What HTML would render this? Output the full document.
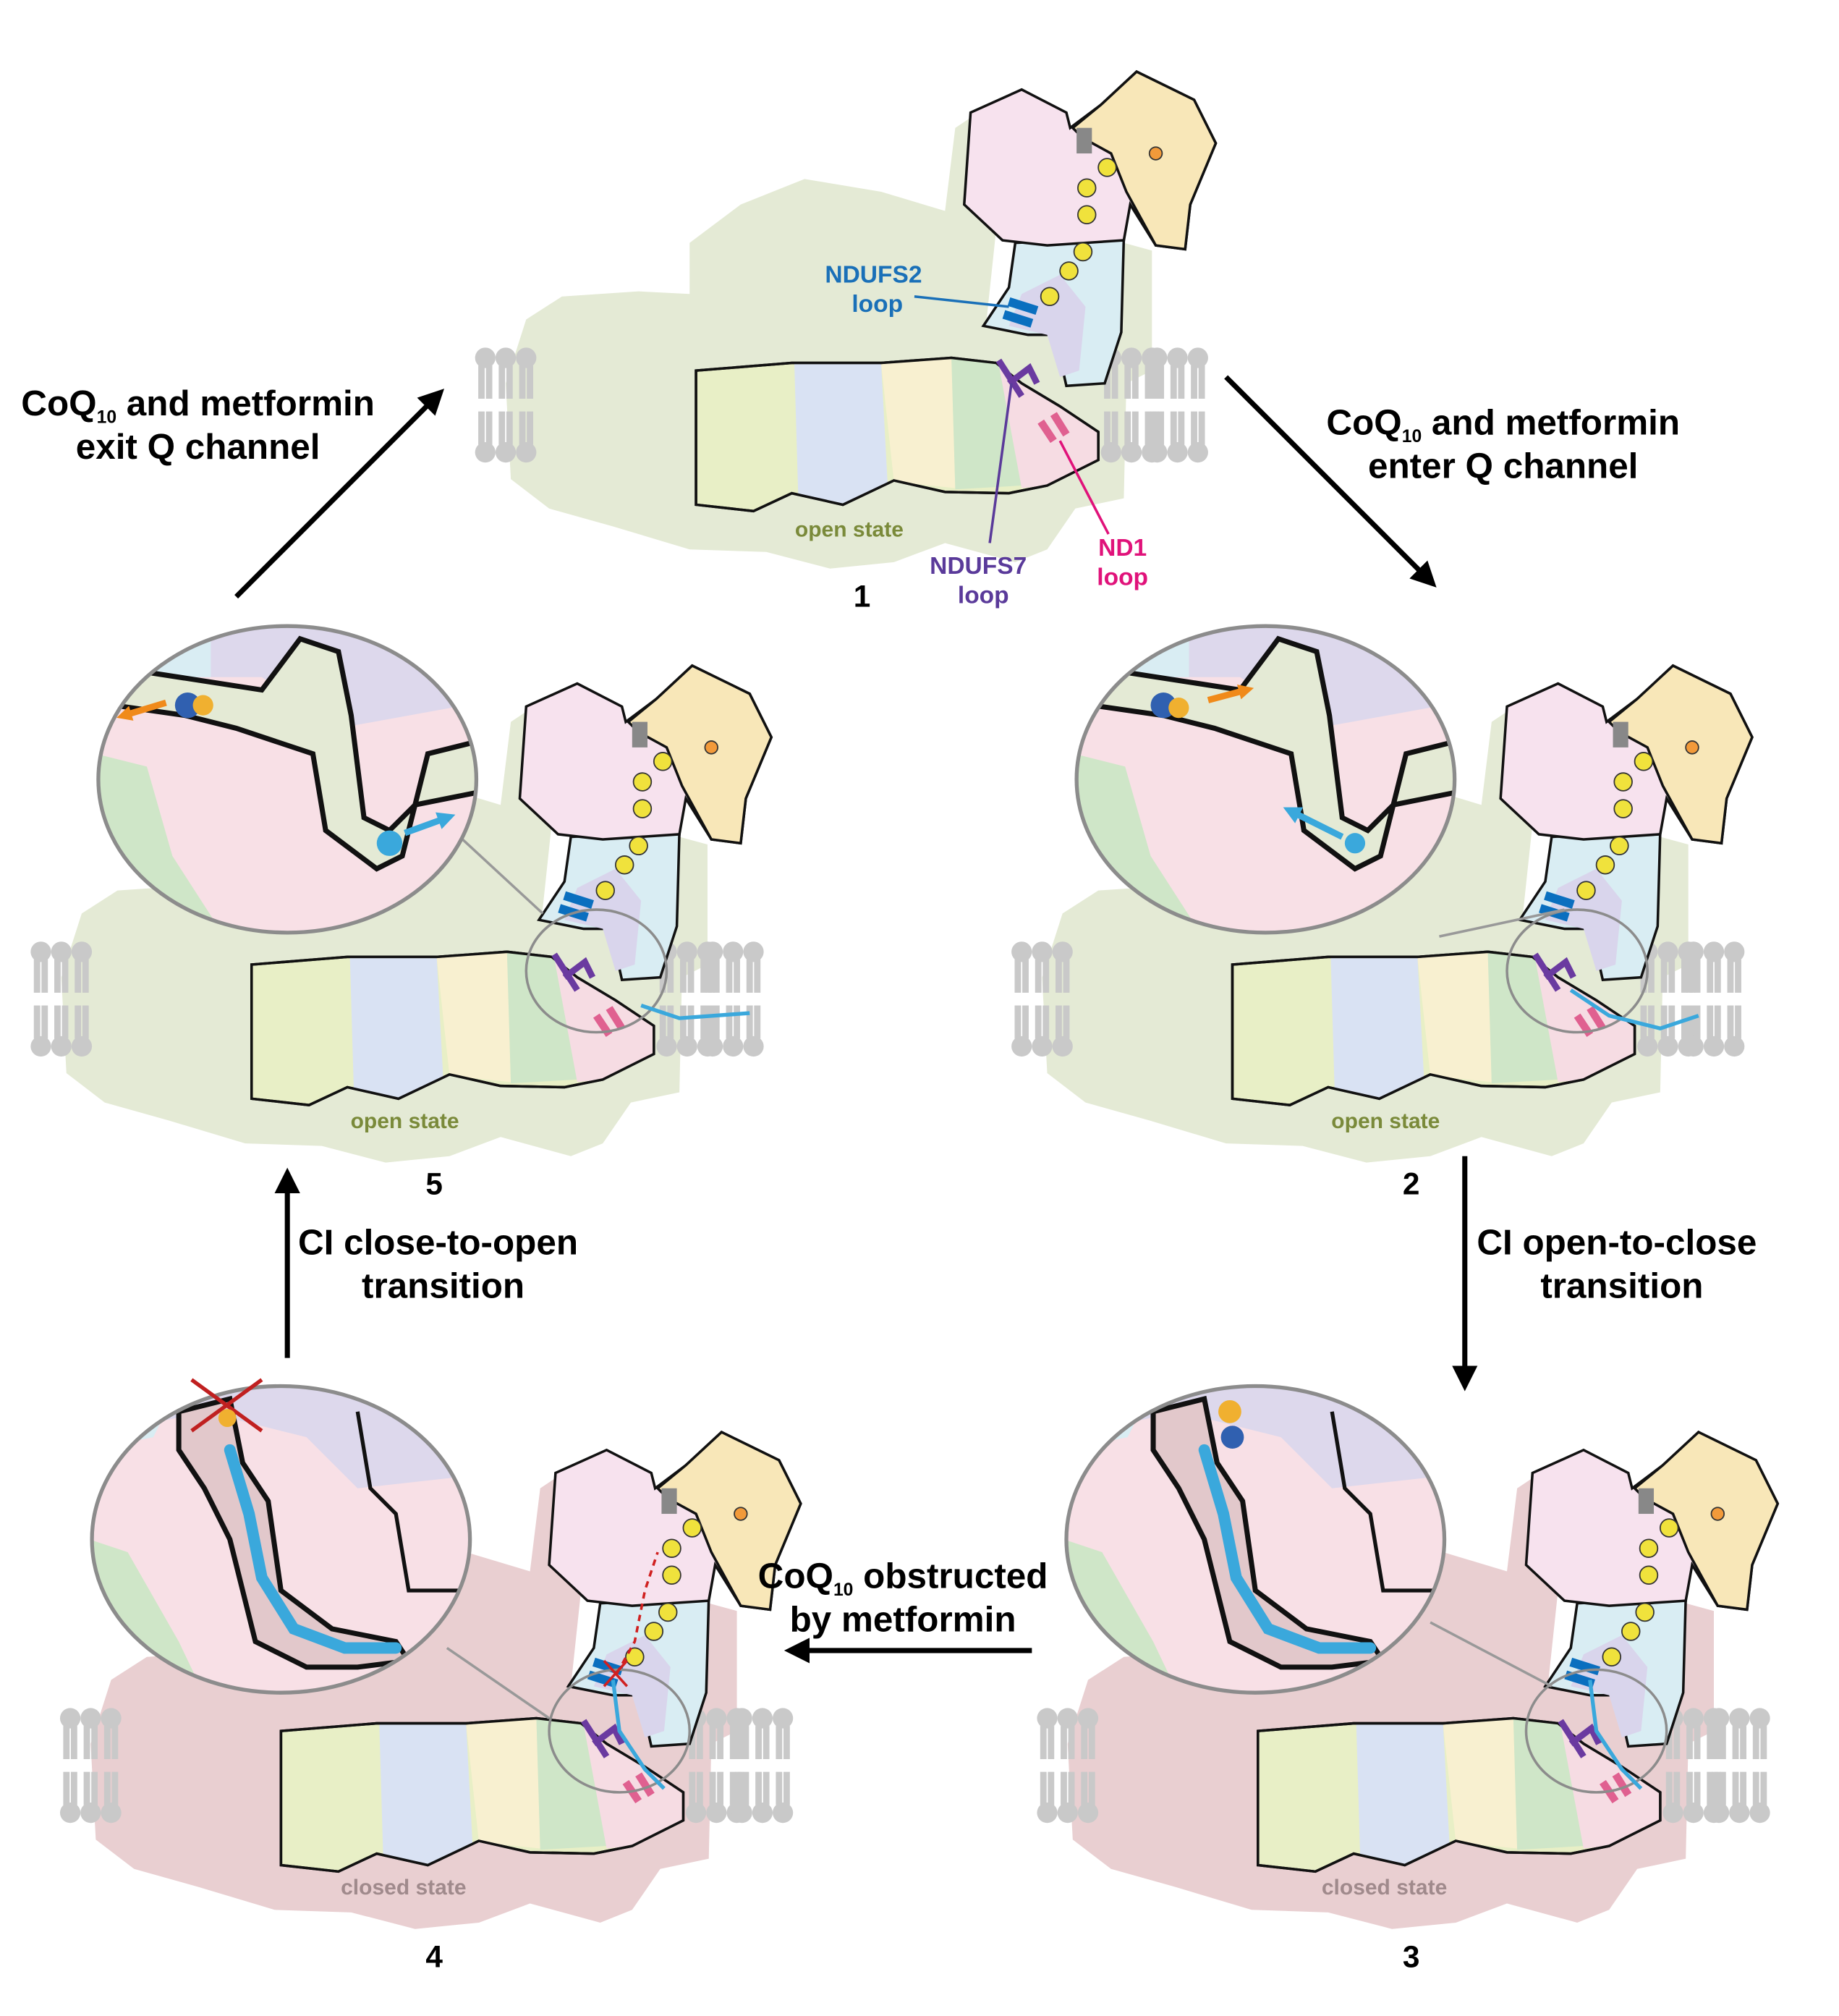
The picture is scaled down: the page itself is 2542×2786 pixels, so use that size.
<!DOCTYPE html>
<html><head><meta charset="utf-8"><style>
html,body{margin:0;padding:0;background:#fff}
svg{display:block}
text{font-family:"Liberation Sans",Arial,sans-serif;font-weight:bold}
</style></head><body>
<svg width="2542" height="2786" viewBox="0 0 1440 1578" xmlns="http://www.w3.org/2000/svg">
<defs>
  <g id="lipids">
    <g fill="#c9c9c9">
      <circle cx="8" cy="8" r="8"/><circle cx="24" cy="8" r="8"/><circle cx="40" cy="8" r="8"/>
      <circle cx="8" cy="82" r="8"/><circle cx="24" cy="82" r="8"/><circle cx="40" cy="82" r="8"/>
    </g>
    <g stroke="#c9c9c9" stroke-width="5" fill="none">
      <path d="M5,14 V40 M11,14 V40 M21,14 V40 M27,14 V40 M37,14 V40 M43,14 V40"/>
      <path d="M5,50 V76 M11,50 V76 M21,50 V76 M27,50 V76 M37,50 V76 M43,50 V76"/>
    </g>
  </g>
  <path id="bgshape" d="M400,375 L396,300 L412,250 L440,232 L500,228 L540,230 L540,190 L580,160 L630,140 L690,150 L740,165 L748,100 L760,92 L765,160 L780,180 L772,255 L850,255 L880,190 L902,196 L902,290 L882,300 L880,390 L842,398 L820,430 L795,440 L740,425 L700,440 L650,445 L600,432 L540,430 L480,412 L430,398 Z"/>
  <g id="complex">
    <use href="#lipids" x="372" y="272"/>
    <use href="#lipids" x="862" y="272"/>
    <use href="#lipids" x="898" y="272"/>
    <path d="M770,255 L790,225 L795,190 L880,186 L878,260 L865,300 L835,302 L826,262 L805,262 Z" fill="#d9edf3" stroke="#111" stroke-width="2"/>
    <path d="M800,230 L830,215 L850,240 L845,290 L830,295 L820,262 L790,255 Z" fill="#d9d5ec"/>
    <path d="M755,160 L760,88 L800,70 L835,88 L838,100 L862,82 L890,56 L935,78 L952,112 L932,160 L928,195 L905,192 L885,160 L880,188 L820,192 L785,188 Z" fill="#f7e2ee" stroke="#111" stroke-width="2"/>
    <path d="M840,100 L862,82 L890,56 L935,78 L952,112 L932,160 L928,195 L905,192 L882,150 L870,120 L848,108 Z" fill="#f8e7b8" stroke="#111" stroke-width="2"/>
    <g fill="#f0e23c" stroke="#333" stroke-width="1">
      <circle cx="867" cy="131" r="7"/><circle cx="851" cy="147" r="7"/><circle cx="851" cy="168" r="7"/>
      <circle cx="848" cy="197" r="7"/><circle cx="837" cy="212" r="7"/><circle cx="822" cy="232" r="7"/>
      <circle cx="905" cy="120" r="5" fill="#f29a3a"/>
    </g>
    <rect x="843" y="100" width="12" height="20" fill="#888"/>
    <path d="M545,290 L620,284 L690,284 L745,280 L780,284 L800,300 L830,318 L860,338 L860,360 L820,380 L790,386 L740,385 L700,376 L660,395 L620,386 L590,400 L545,395 Z" fill="#e8efc6" stroke="#111" stroke-width="2"/>
    <path d="M622,285 L690,285 L695,378 L660,395 L625,387 Z" fill="#d9e2f3"/>
    <path d="M690,285 L745,280 L748,382 L700,377 Z" fill="#f8f0d0"/>
    <path d="M745,280 L785,285 L800,380 L748,383 Z" fill="#cfe6c8"/>
    <path d="M782,285 L800,300 L830,318 L860,338 L860,360 L820,380 L800,382 Z" fill="#f6dce3"/>
    <path d="M545,290 L620,284 L690,284 L745,280 L780,284 L800,300 L830,318 L860,338 L860,360 L820,380 L790,386 L740,385 L700,376 L660,395 L620,386 L590,400 L545,395 Z" fill="none" stroke="#111" stroke-width="2"/>
    <g stroke="#0a6fbf" stroke-width="7"><path d="M790,236 L812,243 M786,246 L808,253"/></g>
    <path d="M782,282 L800,310 M790,300 L806,288 L812,300" stroke="#6a3aa0" stroke-width="5" fill="none"/>
    <g stroke="#e06090" stroke-width="6"><path d="M815,330 L825,345 M825,324 L835,340"/></g>
  </g>
  <clipPath id="mag"><ellipse cx="0" cy="0" rx="148" ry="120"/></clipPath>
  <g id="magOpen">
    <g clip-path="url(#mag)">
      <rect x="-150" y="-122" width="300" height="244" fill="#f8e0e6"/>
      <path d="M-150,-122 L150,-122 L150,-60 L40,-40 L-20,-80 L-150,-80Z" fill="#ddd8ec"/>
      <path d="M-150,-122 L-60,-122 L-60,-80 L-150,-80Z" fill="#d9edf3"/>
      <path d="M-150,-20 L-110,-10 L-90,60 L-50,122 L-150,122Z" fill="#cfe6c8"/>
      <path d="M-150,-60 L-80,-50 L-40,-40 L20,-20 L30,40 L70,70 L90,60 L100,20 L150,10 L150,-30 L110,-20 L100,20 L80,40 L60,30 L50,-50 L40,-100 L10,-110 L-20,-70 L-150,-90Z" fill="#e4ead5" stroke="#111" stroke-width="4"/>
    </g>
    <ellipse cx="0" cy="0" rx="148" ry="120" fill="none" stroke="#8c8c8c" stroke-width="3"/>
  </g>
  <g id="magClosed">
    <g clip-path="url(#mag)">
      <rect x="-150" y="-122" width="300" height="244" fill="#f8e0e6"/>
      <path d="M-150,-122 L150,-122 L150,-50 L60,-40 L20,-80 L-60,-100 L-150,-80Z" fill="#ddd8ec"/>
      <path d="M-150,-120 L-80,-120 L-100,-80 L-150,-70Z" fill="#d9edf3"/>
      <path d="M-150,0 L-120,10 L-80,80 L-60,122 L-150,122Z" fill="#cfe6c8"/>
      <path d="M-80,-100 L-40,-110 L-30,-60 L-10,-30 L0,40 L40,70 L90,80 L100,95 L60,100 L20,100 L-20,80 L-40,0 L-60,-40 L-80,-70Z" fill="#e2c8cb" stroke="#111" stroke-width="4"/>
      <path d="M60,-100 L70,-40 L90,-20 L100,40 L150,40" fill="none" stroke="#111" stroke-width="3"/>
      <path d="M-40,-70 L-25,-20 L-15,30 L10,70 L50,85 L90,85" fill="none" stroke="#3aa8dc" stroke-width="9" stroke-linecap="round"/>
    </g>
    <ellipse cx="0" cy="0" rx="148" ry="120" fill="none" stroke="#8c8c8c" stroke-width="3"/>
  </g>
  <marker id="ah" viewBox="0 0 10 10" refX="8" refY="5" markerWidth="5" markerHeight="5" orient="auto"><path d="M0,0 L10,5 L0,10Z" fill="#000"/></marker>
  <marker id="ahb" viewBox="0 0 10 10" refX="5" refY="5" markerUnits="userSpaceOnUse" markerWidth="14" markerHeight="14" orient="auto"><path d="M0,0 L10,5 L0,10Z" fill="#3aa8dc"/></marker>
  <marker id="aho" viewBox="0 0 10 10" refX="5" refY="5" markerUnits="userSpaceOnUse" markerWidth="12" markerHeight="12" orient="auto"><path d="M0,0 L10,5 L0,10Z" fill="#f08a1a"/></marker>
</defs>

<g>
  <use href="#bgshape" fill="#e4ead5"/>
  <use href="#complex"/>
  <text x="665" y="420" font-size="17" fill="#7a8a3a" text-anchor="middle">open state</text>
  <text x="675" y="475" font-size="24" text-anchor="middle">1</text>
  <text x="684" y="221" font-size="19" fill="#1a70b8" text-anchor="middle">NDUFS2</text>
  <text x="687" y="244" font-size="19" fill="#1a70b8" text-anchor="middle">loop</text>
  <path d="M716,232 L790,240" stroke="#1a70b8" stroke-width="2"/>
  <text x="766" y="449" font-size="19" fill="#5a3a9a" text-anchor="middle">NDUFS7</text>
  <text x="770" y="472" font-size="19" fill="#5a3a9a" text-anchor="middle">loop</text>
  <path d="M775,425 L792,300" stroke="#5a3a9a" stroke-width="2"/>
  <text x="879" y="435" font-size="19" fill="#e0127a" text-anchor="middle">ND1</text>
  <text x="879" y="458" font-size="19" fill="#e0127a" text-anchor="middle">loop</text>
  <path d="M868,418 L830,345" stroke="#e0127a" stroke-width="2"/>
</g>

<g transform="translate(420,465)">
  <use href="#bgshape" fill="#e4ead5"/>
  <use href="#complex"/>
  <text x="665" y="418" font-size="17" fill="#7a8a3a" text-anchor="middle">open state</text>
  <ellipse cx="815" cy="295" rx="55" ry="48" fill="none" stroke="#8c8c8c" stroke-width="2"/>
  <path d="M810,310 L840,330 L880,340 L910,330" stroke="#3aa8dc" stroke-width="3" fill="none"/>
</g>
<line x1="1127" y1="733" x2="1225" y2="712" stroke="#999" stroke-width="2"/>
<g transform="translate(991,610)"><use href="#magOpen"/>
  <path d="M60,45 L20,25" stroke="#3aa8dc" stroke-width="5" fill="none" marker-end="url(#ahb)"/>
  <circle cx="70" cy="50" r="8" fill="#3aa8dc"/>
  <path d="M-45,-62 L-15,-70" stroke="#f08a1a" stroke-width="5" fill="none" marker-end="url(#aho)"/>
  <circle cx="-80" cy="-58" r="10" fill="#3060b0"/><circle cx="-68" cy="-56" r="8" fill="#f0b030"/>
</g>
<text x="1105" y="935" font-size="24" text-anchor="middle">2</text>

<g transform="translate(-348,465)">
  <use href="#bgshape" fill="#e4ead5"/>
  <use href="#complex"/>
  <text x="665" y="418" font-size="17" fill="#7a8a3a" text-anchor="middle">open state</text>
  <ellipse cx="815" cy="295" rx="55" ry="48" fill="none" stroke="#8c8c8c" stroke-width="2"/>
  <path d="M850,322 L880,332 L935,328" stroke="#3aa8dc" stroke-width="3" fill="none"/>
</g>
<line x1="360" y1="655" x2="425" y2="715" stroke="#999" stroke-width="2"/>
<g transform="translate(225,610)"><use href="#magOpen"/>
  <path d="M92,42 L125,30" stroke="#3aa8dc" stroke-width="5" fill="none" marker-end="url(#ahb)"/>
  <circle cx="80" cy="50" r="10" fill="#3aa8dc"/>
  <path d="M-95,-60 L-128,-50" stroke="#f08a1a" stroke-width="5" fill="none" marker-end="url(#aho)"/>
  <circle cx="-78" cy="-58" r="10" fill="#3060b0"/><circle cx="-66" cy="-58" r="8" fill="#f0b030"/>
</g>
<text x="340" y="935" font-size="24" text-anchor="middle">5</text>

<g transform="translate(440,1065)">
  <use href="#bgshape" fill="#e9cfd1"/>
  <use href="#complex"/>
  <text x="644" y="418" font-size="17" fill="#a08a8c" text-anchor="middle">closed state</text>
  <ellipse cx="810" cy="290" rx="55" ry="48" fill="none" stroke="#8c8c8c" stroke-width="2"/>
  <path d="M805,250 L810,290 L830,320 L845,335" stroke="#3aa8dc" stroke-width="3" fill="none"/>
</g>
<line x1="1120" y1="1270" x2="1215" y2="1320" stroke="#999" stroke-width="2"/>
<g transform="translate(983,1205)"><use href="#magClosed"/>
  <circle cx="-20" cy="-100" r="9" fill="#f0b030"/><circle cx="-18" cy="-80" r="9" fill="#3060b0"/>
</g>
<text x="1105" y="1540" font-size="24" text-anchor="middle">3</text>

<g transform="translate(-325,1065)">
  <use href="#bgshape" fill="#e9cfd1"/>
  <use href="#complex"/>
  <text x="641" y="418" font-size="17" fill="#a08a8c" text-anchor="middle">closed state</text>
  <ellipse cx="810" cy="290" rx="55" ry="48" fill="none" stroke="#8c8c8c" stroke-width="2"/>
  <path d="M805,250 L810,290 L830,320 L845,335" stroke="#3aa8dc" stroke-width="3" fill="none"/>
  <path d="M808,245 L822,220 L830,180 L840,150" stroke="#d02020" stroke-width="2" stroke-dasharray="5,4" fill="none"/>
  <path d="M798,235 L816,255 M816,235 L798,255" stroke="#d02020" stroke-width="2"/>
</g>
<line x1="350" y1="1290" x2="430" y2="1345" stroke="#999" stroke-width="2"/>
<g transform="translate(220,1205)"><use href="#magClosed"/>
  <path d="M-70,-125 L-15,-85 M-15,-125 L-70,-85" stroke="#c02020" stroke-width="3"/>
  <circle cx="-42" cy="-95" r="7" fill="#f0b030"/>
</g>
<text x="340" y="1540" font-size="24" text-anchor="middle">4</text>

<g stroke="#000" stroke-width="4" fill="none">
  <line x1="185" y1="467" x2="345" y2="307" marker-end="url(#ah)"/>
  <line x1="960" y1="295" x2="1122" y2="457" marker-end="url(#ah)"/>
  <line x1="1147" y1="905" x2="1147" y2="1085" marker-end="url(#ah)"/>
  <line x1="808" y1="1292" x2="618" y2="1292" marker-end="url(#ah)"/>
  <line x1="225" y1="1063" x2="225" y2="918" marker-end="url(#ah)"/>
</g>

<g font-size="28" text-anchor="middle">
  <text x="155" y="325">CoQ<tspan font-size="14" dy="6">10</tspan><tspan dy="-6"> and metformin</tspan></text>
  <text x="155" y="359">exit Q channel</text>
  <text x="1177" y="340">CoQ<tspan font-size="14" dy="6">10</tspan><tspan dy="-6"> and metformin</tspan></text>
  <text x="1177" y="374">enter Q channel</text>
  <text x="1266" y="982">CI open-to-close</text>
  <text x="1270" y="1016">transition</text>
  <text x="707" y="1243">CoQ<tspan font-size="14" dy="6">10</tspan><tspan dy="-6"> obstructed</tspan></text>
  <text x="707" y="1277">by metformin</text>
  <text x="343" y="982">CI close-to-open</text>
  <text x="347" y="1016">transition</text>
</g>
</svg>
</body></html>
